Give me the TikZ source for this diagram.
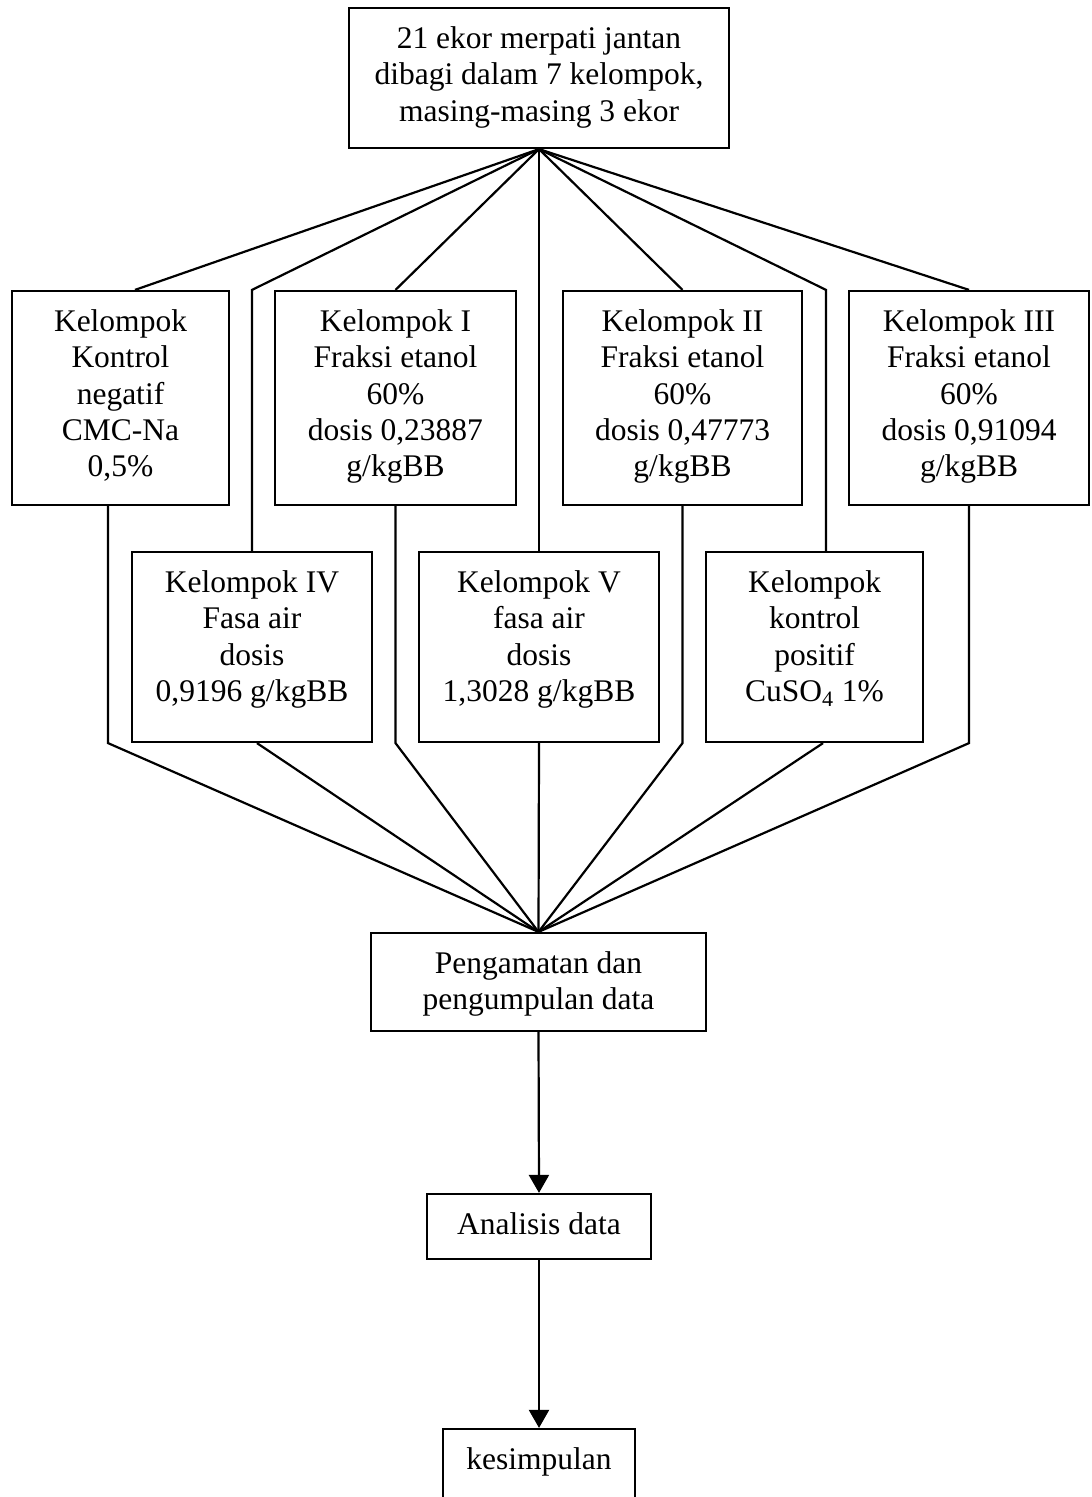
\documentclass[tikz,border=0pt]{standalone}
\usepackage{fontspec}
\setmainfont{Liberation Serif}
\usetikzlibrary{arrows.meta}
\begin{document}
\begin{tikzpicture}[x=0.5pt,y=-0.5pt,
  box/.style={draw, line width=1.1pt, inner sep=0pt},
  txt/.style={align=center, inner sep=0pt, anchor=north, yshift=-9.75pt,
              font=\fontsize{15.75}{18.15}\selectfont},
  conn/.style={line width=1.1pt, line join=miter},
  arr/.style={conn, -{Triangle[length=9pt,width=10pt]}}]
\clip (0,0) rectangle (1091,1497);
\fill[white] (0,0) rectangle (1091,1497);
% boxes
\node[box, minimum width=190pt, minimum height=70pt] (top) at (539,78) {};
\node[box, minimum width=108.5pt, minimum height=107pt] (kn) at (120.5,398) {};
\node[box, minimum width=120.5pt, minimum height=107pt] (k1) at (395.5,398) {};
\node[box, minimum width=119.5pt, minimum height=107pt] (k2) at (682.5,398) {};
\node[box, minimum width=120pt, minimum height=107pt] (k3) at (969,398) {};
\node[box, minimum width=120pt, minimum height=95pt] (k4) at (252,647) {};
\node[box, minimum width=120pt, minimum height=95pt] (k5) at (539,647) {};
\node[box, minimum width=108.5pt, minimum height=95pt] (kp) at (814.5,647) {};
\node[box, minimum width=167.5pt, minimum height=49pt] (peng) at (538.5,982) {};
\node[box, minimum width=112pt, minimum height=32.5pt] (anal) at (539,1226.5) {};
\node[box, minimum width=96pt, minimum height=55.5pt] (kes) at (539,1484.5) {};
% texts
\node[txt] (ttop) at (top.north) {21 ekor merpati jantan\\dibagi dalam 7 kelompok,\\masing-masing 3 ekor};
\node[txt] (tkn) at (kn.north) {Kelompok\\Kontrol\\negatif\\CMC-Na\\0,5\%};
\node[txt] (tk1) at (k1.north) {Kelompok I\\Fraksi etanol\\60\%\\dosis 0,23887\\g/kgBB};
\node[txt] (tk2) at (k2.north) {Kelompok II\\Fraksi etanol\\60\%\\dosis 0,47773\\g/kgBB};
\node[txt] (tk3) at (k3.north) {Kelompok III\\Fraksi etanol\\60\%\\dosis 0,91094\\g/kgBB};
\node[txt] (tk4) at (k4.north) {Kelompok IV\\Fasa air\\dosis\\0,9196 g/kgBB};
\node[txt] (tk5) at (k5.north) {Kelompok V\\fasa air\\dosis\\1,3028 g/kgBB};
\node[txt] (tkp) at (kp.north) {Kelompok\\kontrol\\positif\\CuSO\textsubscript{4} 1\%};
\node[txt] (tpeng) at (peng.north) {Pengamatan dan\\pengumpulan data};
\node[txt] (tanal) at (anal.north) {Analisis data};
\node[txt] (tkes) at (kes.north) {kesimpulan};
% helper coordinates
\coordinate (knin) at ([xshift=7.25pt]kn.north);
\coordinate (kpin) at ([xshift=5.75pt]kp.north);
\coordinate (knout) at ([xshift=-6.25pt]kn.south);
\coordinate (k4out) at ([xshift=2.5pt]k4.south);
\coordinate (kpout) at ([xshift=4.25pt]kp.south);
% top fan
\draw[conn] (top.south) -- (knin);
\draw[conn] (top.south) -- (k4.north |- kn.north) -- (k4.north);
\draw[conn] (top.south) -- (k1.north);
\draw[conn] (top.south) -- (k5.north);
\draw[conn] (top.south) -- (k2.north);
\draw[conn] (top.south) -- (kpin |- k2.north) -- (kpin);
\draw[conn] (top.south) -- (k3.north);
% bottom fan
\draw[conn] (knout) -- (knout |- k4.south) -- (peng.north);
\draw[conn] (k4out) -- (peng.north);
\draw[conn] (k1.south) -- (k1.south |- k4.south) -- (peng.north);
\draw[conn] (k5.south) -- (peng.north);
\draw[conn] (k2.south) -- (k2.south |- k4.south) -- (peng.north);
\draw[conn] (kpout) -- (peng.north);
\draw[conn] (k3.south) -- (k3.south |- k4.south) -- (peng.north);
% arrows
\draw[arr] (peng.south) -- (anal.north);
\draw[arr] (anal.south) -- (kes.north);
\end{tikzpicture}
\end{document}
